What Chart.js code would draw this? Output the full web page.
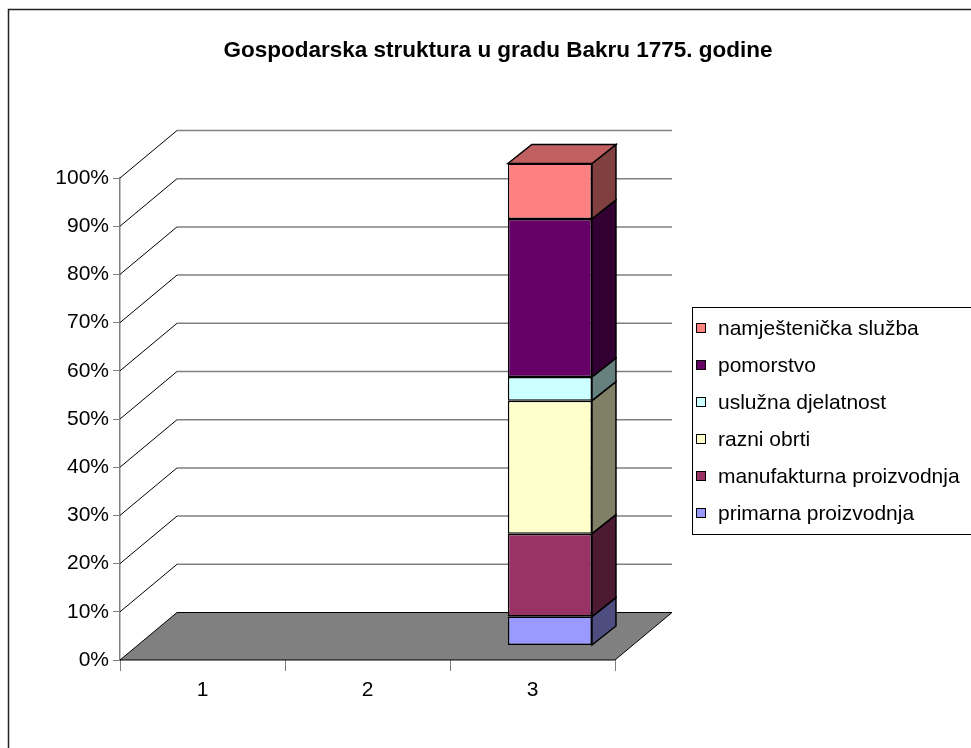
<!DOCTYPE html>
<html>
<head>
<meta charset="utf-8">
<script src="https://cdn.jsdelivr.net/npm/chart.js@4/dist/chart.umd.min.js"></script>
<style>
  html, body { margin: 0; padding: 0; background: #fff; }
  #wrap { width: 971px; height: 748px; }
</style>
</head>
<body>
<div id="wrap"><canvas id="chart" width="971" height="748"></canvas></div>
<script>
// podaci (postoci, procijenjeni sa slike)
const categories = ['1', '2', '3'];
const seriesNames = ['primarna proizvodnja', 'manufakturna proizvodnja', 'razni obrti',
    'uslužna djelatnost', 'pomorstvo', 'namještenička služba'];
const primarna = [null, null, 6.0];
const manufakturna = [null, null, 17.2];
const razniObrti = [null, null, 27.6];
const usluzna = [null, null, 4.9];
const pomorstvo = [null, null, 32.8];
const namjestenicka = [null, null, 11.5];
const yTicks = [0, 10, 20, 30, 40, 50, 60, 70, 80, 90, 100];

const seriesValues = [primarna, manufakturna, razniObrti, usluzna, pomorstvo, namjestenicka];
const frontColors = ['#9999FF', '#993366', '#FFFFCC', '#CCFFFF', '#660066', '#FF8080'];
const sideColors = ['#4D4D80', '#4D1A33', '#808066', '#668080', '#330033', '#804040'];
const topColors = ['#7373BF', '#73264D', '#BFBF99', '#99BFBF', '#4D004D', '#C06060'];

const FONT = '"Liberation Sans", Arial, sans-serif';
// 3D pomaci
const WALL_DX = 57, WALL_DY = -47.5;   // dubina zida/poda
const BAR_SHIFT_X = 17.4, BAR_SHIFT_Y = -14.5; // pomak stupca unutar dubine
const BAR_DX = 24, BAR_DY = -19;        // dubina stupca
const WALL_RIGHT = 672;

const threeD = {
    id: 'threeD',
    beforeDatasetsDraw(chart) {
        const ctx = chart.ctx;
        const area = chart.chartArea;
        const yScale = chart.scales.y;
        ctx.save();
        // mreža na stražnjem zidu
        yTicks.forEach(v => {
            if (v === 0) return;
            const y = yScale.getPixelForValue(v);
            ctx.beginPath();
            ctx.strokeStyle = '#000';
            ctx.lineWidth = 1;
            ctx.moveTo(area.left, y);
            ctx.lineTo(area.left + WALL_DX, y + WALL_DY);
            ctx.stroke();
            ctx.beginPath();
            ctx.strokeStyle = '#808080';
            ctx.lineWidth = 1.5;
            ctx.moveTo(area.left + WALL_DX, y + WALL_DY);
            ctx.lineTo(WALL_RIGHT, y + WALL_DY);
            ctx.stroke();
        });
        // pod
        const y0 = yScale.getPixelForValue(0);
        ctx.beginPath();
        ctx.moveTo(area.left, y0);
        ctx.lineTo(area.left + WALL_DX, y0 + WALL_DY);
        ctx.lineTo(WALL_RIGHT, y0 + WALL_DY);
        ctx.lineTo(area.right, y0);
        ctx.closePath();
        ctx.fillStyle = '#808080';
        ctx.fill();
        ctx.strokeStyle = '#000';
        ctx.lineWidth = 1;
        ctx.stroke();
        ctx.restore();

        ctx.save();
        ctx.translate(BAR_SHIFT_X, BAR_SHIFT_Y);
    },
    afterDatasetsDraw(chart) {
        const ctx = chart.ctx;
        let lastIdx = -1;
        chart.data.datasets.forEach((ds, i) => {
            const meta = chart.getDatasetMeta(i);
            meta.data.forEach((el, j) => {
                if (ds.data[j] == null) return;
                const p = el.getProps(['x', 'y', 'base', 'width'], true);
                const right = p.x + p.width / 2;
                ctx.beginPath();
                ctx.moveTo(right, p.y);
                ctx.lineTo(right + BAR_DX, p.y + BAR_DY);
                ctx.lineTo(right + BAR_DX, p.base + BAR_DY);
                ctx.lineTo(right, p.base);
                ctx.closePath();
                ctx.fillStyle = sideColors[i];
                ctx.fill();
                ctx.strokeStyle = '#000';
                ctx.lineWidth = 1.5;
                ctx.stroke();
                lastIdx = i;
            });
        });
        if (lastIdx >= 0) {
            const meta = chart.getDatasetMeta(lastIdx);
            meta.data.forEach((el, j) => {
                if (chart.data.datasets[lastIdx].data[j] == null) return;
                const p = el.getProps(['x', 'y', 'width'], true);
                const left = p.x - p.width / 2;
                const right = p.x + p.width / 2;
                ctx.beginPath();
                ctx.moveTo(left, p.y);
                ctx.lineTo(left + BAR_DX, p.y + BAR_DY);
                ctx.lineTo(right + BAR_DX, p.y + BAR_DY);
                ctx.lineTo(right, p.y);
                ctx.closePath();
                ctx.fillStyle = topColors[lastIdx];
                ctx.fill();
                ctx.strokeStyle = '#000';
                ctx.lineWidth = 1.5;
                ctx.stroke();
            });
        }
        ctx.restore();
    },
    afterDraw(chart) {
        const ctx = chart.ctx;
        ctx.save();
        // okvir
        ctx.strokeStyle = '#222';
        ctx.lineWidth = 1.5;
        ctx.strokeRect(8.5, 9.5, 1000, 800);
        // naslov
        ctx.fillStyle = '#000';
        ctx.font = 'bold 22.5px ' + FONT;
        ctx.textAlign = 'center';
        ctx.textBaseline = 'middle';
        ctx.fillText('Gospodarska struktura u gradu Bakru 1775. godine', 498, 51);
        // legenda
        ctx.strokeStyle = '#000';
        ctx.lineWidth = 1;
        ctx.strokeRect(692.5, 307.5, 300, 227);
        ctx.font = '21px ' + FONT;
        ctx.textAlign = 'left';
        for (let k = 0; k < seriesNames.length; k++) {
            const i = seriesNames.length - 1 - k;
            const cy = 328 + k * 37;
            ctx.fillStyle = frontColors[i];
            ctx.fillRect(696.5, cy - 4.5, 9, 9);
            ctx.strokeStyle = '#000';
            ctx.strokeRect(696.5, cy - 4.5, 9, 9);
            ctx.fillStyle = '#000';
            ctx.fillText(seriesNames[i], 718, cy + 1);
        }
        ctx.restore();
    }
};

const datasets = seriesValues.map((vals, i) => ({
    label: seriesNames[i],
    data: vals,
    backgroundColor: frontColors[i],
    borderColor: '#000',
    borderWidth: 1.5,
    borderSkipped: false,
    barPercentage: 0.51,
    categoryPercentage: 1,
    clip: false
}));

new Chart(document.getElementById('chart'), {
    type: 'bar',
    data: { labels: categories, datasets: datasets },
    plugins: [threeD],
    options: {
        responsive: false,
        animation: false,
        devicePixelRatio: 1,
        layout: { padding: { left: 0, top: 178, right: 356, bottom: 48 } },
        plugins: {
            legend: { display: false },
            title: { display: false },
            tooltip: { enabled: false }
        },
        scales: {
            x: {
                stacked: true,
                afterFit(scale) { scale.height = 40; },
                grid: { drawOnChartArea: false, tickLength: 11, color: '#808080', offset: true },
                border: { display: false },
                ticks: { color: '#000', font: { family: FONT, size: 21 }, padding: 7 }
            },
            y: {
                stacked: true,
                min: 0,
                max: 100,
                afterFit(scale) { scale.width = 120; },
                afterBuildTicks(scale) { scale.ticks = yTicks.map(v => ({ value: v })); },
                grid: { drawOnChartArea: false, tickLength: 7, color: '#808080' },
                border: { display: true, color: '#808080', width: 1.5 },
                ticks: {
                    color: '#000',
                    font: { family: FONT, size: 21 },
                    padding: 4,
                    callback: v => v + '%'
                }
            }
        }
    }
});
</script>
</body>
</html>
